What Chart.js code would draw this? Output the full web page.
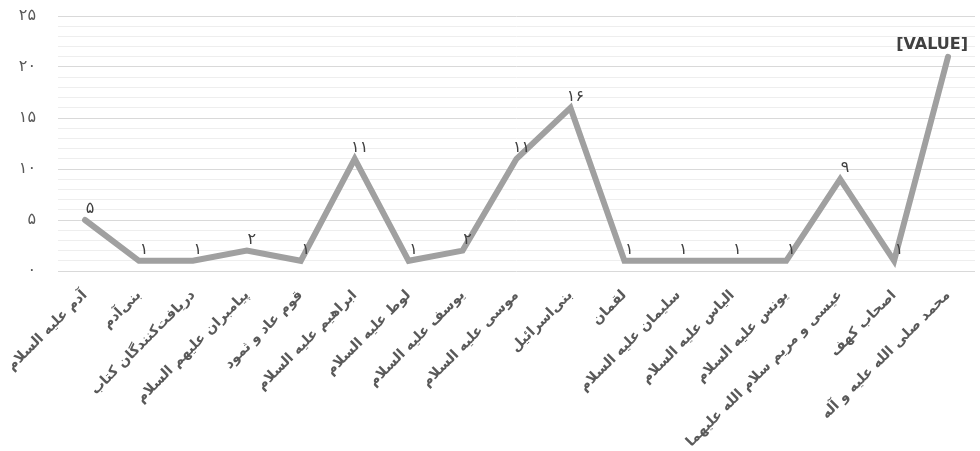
<!DOCTYPE html>
<html>
<head>
<meta charset="utf-8">
<script src="https://cdn.jsdelivr.net/npm/chart.js@4.4.1/dist/chart.umd.min.js"></script>
<style>
  html, body { margin: 0; padding: 0; background: #fff; }
  #wrap { position: relative; width: 980px; height: 451px; }
</style>
</head>
<body>
<div id="wrap"><canvas id="chart"></canvas></div>
<script>
// دسته‌ها
const categories = [
  'آدم علیه السلام',
  'بنی‌آدم',
  'دریافت‌کنندگان کتاب',
  'پیامبران علیهم السلام',
  'قوم عاد و ثمود',
  'ابراهیم علیه السلام',
  'لوط علیه السلام',
  'یوسف علیه السلام',
  'موسی علیه السلام',
  'بنی‌اسرائیل',
  'لقمان',
  'سلیمان علیه السلام',
  'الیاس علیه السلام',
  'یونس علیه السلام',
  'عیسی و مریم سلام الله علیهما',
  'اصحاب کهف',
  'محمد صلی الله علیه و آله'
];

// مقادیر
const values = [5, 1, 1, 2, 1, 11, 1, 2, 11, 16, 1, 1, 1, 1, 9, 1, 21];

// برچسب داده‌ها (آخری در تصویر اصلی [VALUE] است)
const pointLabels = ['۵', '۱', '۱', '۲', '۱', '۱۱', '۱', '۲', '۱۱', '۱۶', '۱', '۱', '۱', '۱', '۹', '۱', '[VALUE]'];

// محور عمودی
const yMin = 0;
const yMax = 25;
const yMajorStep = 5;

const FONT = "'DejaVu Sans', sans-serif";
const faDigits = '۰۱۲۳۴۵۶۷۸۹';
const toFa = n => String(n).replace(/\d/g, d => faDigits[d]);

// رسم برچسب‌های نقاط
const labelPlugin = {
  id: 'pointLabels',
  afterDatasetsDraw(chart) {
    const ctx = chart.ctx;
    const meta = chart.getDatasetMeta(0);
    ctx.save();
    ctx.fillStyle = '#404040';
    ctx.textBaseline = 'middle';
    meta.data.forEach((pt, i) => {
      const txt = pointLabels[i];
      if (txt.startsWith('[')) {
        ctx.font = 'bold 16px ' + FONT;
        ctx.textAlign = 'right';
        ctx.fillText(txt, pt.x + 20, pt.y - 12);
      } else {
        ctx.font = '16px ' + FONT;
        ctx.textAlign = 'center';
        ctx.fillText(txt, pt.x + 5, pt.y - 11);
      }
    });
    ctx.restore();
  }
};

const ctx = document.getElementById('chart').getContext('2d');
new Chart(ctx, {
  type: 'line',
  data: {
    labels: categories,
    datasets: [{
      data: values,
      borderColor: '#a0a0a0',
      borderWidth: 6,
      pointRadius: 0,
      tension: 0,
      fill: false,
      borderJoinStyle: 'miter',
      borderCapStyle: 'round'
    }]
  },
  options: {
    responsive: true,
    maintainAspectRatio: false,
    animation: false,
    layout: { padding: { top: 16, right: 5, left: 0, bottom: 0 } },
    plugins: {
      legend: { display: false },
      tooltip: { enabled: false }
    },
    scales: {
      x: {
        offset: true,
        grid: { display: false },
        border: { display: false },
        ticks: {
          autoSkip: false,
          maxRotation: 45,
          minRotation: 45,
          color: '#595959',
          padding: 8,
          font: { family: FONT, size: 14, weight: 'bold' }
        },
        afterFit(scale) { scale.height = 180; }
      },
      y: {
        min: yMin,
        max: yMax,
        border: { display: false },
        grid: {
          drawTicks: false,
          lineWidth: 1,
          color: c => (c.tick && c.tick.value % yMajorStep === 0) ? '#d9d9d9' : '#eeeeee'
        },
        ticks: {
          stepSize: 1,
          autoSkip: false,
          padding: 22,
          color: '#595959',
          font: { family: FONT, size: 16 },
          callback: v => (v % yMajorStep === 0 ? toFa(v) : '')
        },
        afterFit(scale) {
          scale.width = 54;
          scale.paddingTop = 0;
          scale.paddingBottom = 0;
        }
      }
    }
  },
  plugins: [labelPlugin]
});
</script>
</body>
</html>
